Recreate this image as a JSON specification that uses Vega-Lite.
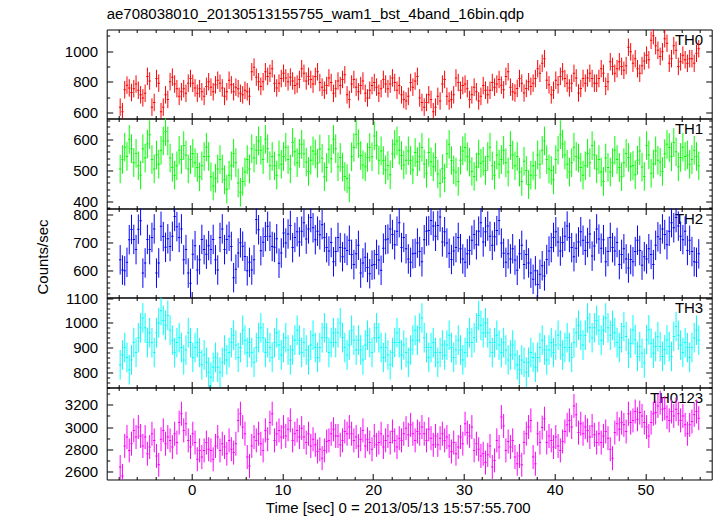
{
"$schema": "https://vega.github.io/schema/vega-lite/v6.json",
"autosize": {"type": "pad"},
"padding": {"left": 34.7, "top": 6.5, "right": 5, "bottom": 2},
"title": {"text": "ae708038010_20130513155755_wam1_bst_4band_16bin.qdp", "anchor": "start", "frame": "group", "offset": -5.5, "baseline": "alphabetic", "fontSize": 15, "fontWeight": "normal", "color": "#000"},
"datasets": {"lc": [
{"t":-7.875,"TH0":635,"e0":57,"TH1":505,"e1":46,"TH2":639,"e2":52,"TH3":830,"e3":60,"TH0123":2640,"e4":108},
{"t":-7.625,"TH0":605,"e0":57,"TH1":535,"e1":46,"TH2":603,"e2":52,"TH3":870,"e3":60,"TH0123":2560,"e4":108},
{"t":-7.375,"TH0":748,"e0":57,"TH1":575,"e1":46,"TH2":600,"e2":52,"TH3":900,"e3":60,"TH0123":2830,"e4":108},
{"t":-7.125,"TH0":778,"e0":57,"TH1":545,"e1":46,"TH2":630,"e2":52,"TH3":860,"e3":60,"TH0123":2910,"e4":108},
{"t":-6.875,"TH0":760,"e0":57,"TH1":600,"e1":46,"TH2":710,"e2":52,"TH3":810,"e3":60,"TH0123":2790,"e4":108},
{"t":-6.625,"TH0":730,"e0":57,"TH1":570,"e1":46,"TH2":746,"e2":52,"TH3":850,"e3":60,"TH0123":2850,"e4":108},
{"t":-6.375,"TH0":755,"e0":57,"TH1":525,"e1":46,"TH2":711,"e2":52,"TH3":920,"e3":60,"TH0123":2970,"e4":108},
{"t":-6.125,"TH0":785,"e0":57,"TH1":555,"e1":46,"TH2":675,"e2":52,"TH3":880,"e3":60,"TH0123":2910,"e4":108},
{"t":-5.875,"TH0":745,"e0":57,"TH1":515,"e1":46,"TH2":747,"e2":52,"TH3":940,"e3":60,"TH0123":3000,"e4":108},
{"t":-5.625,"TH0":715,"e0":57,"TH1":485,"e1":46,"TH2":777,"e2":52,"TH3":980,"e3":60,"TH0123":2920,"e4":108},
{"t":-5.375,"TH0":695,"e0":57,"TH1":570,"e1":46,"TH2":592,"e2":52,"TH3":1020,"e3":60,"TH0123":2830,"e4":108},
{"t":-5.125,"TH0":725,"e0":57,"TH1":540,"e1":46,"TH2":628,"e2":52,"TH3":980,"e3":60,"TH0123":2910,"e4":108},
{"t":-4.875,"TH0":835,"e0":57,"TH1":585,"e1":46,"TH2":711,"e2":52,"TH3":920,"e3":60,"TH0123":2760,"e4":108},
{"t":-4.625,"TH0":805,"e0":57,"TH1":615,"e1":46,"TH2":675,"e2":52,"TH3":960,"e3":60,"TH0123":2820,"e4":108},
{"t":-4.375,"TH0":635,"e0":57,"TH1":535,"e1":46,"TH2":718,"e2":52,"TH3":920,"e3":60,"TH0123":2940,"e4":108},
{"t":-4.125,"TH0":665,"e0":57,"TH1":505,"e1":46,"TH2":748,"e2":52,"TH3":880,"e3":60,"TH0123":2880,"e4":108},
{"t":-3.875,"TH0":821,"e0":57,"TH1":550,"e1":46,"TH2":592,"e2":52,"TH3":960,"e3":60,"TH0123":2740,"e4":108},
{"t":-3.625,"TH0":791,"e0":57,"TH1":520,"e1":46,"TH2":628,"e2":52,"TH3":1000,"e3":60,"TH0123":2660,"e4":108},
{"t":-3.375,"TH0":605,"e0":57,"TH1":565,"e1":46,"TH2":757,"e2":52,"TH3":1050,"e3":60,"TH0123":2890,"e4":108},
{"t":-3.125,"TH0":635,"e0":57,"TH1":595,"e1":46,"TH2":721,"e2":52,"TH3":1010,"e3":60,"TH0123":2970,"e4":108},
{"t":-2.875,"TH0":715,"e0":57,"TH1":625,"e1":46,"TH2":683,"e2":52,"TH3":990,"e3":60,"TH0123":2850,"e4":108},
{"t":-2.625,"TH0":685,"e0":57,"TH1":595,"e1":46,"TH2":713,"e2":52,"TH3":1030,"e3":60,"TH0123":2910,"e4":108},
{"t":-2.375,"TH0":800,"e0":57,"TH1":540,"e1":46,"TH2":686,"e2":52,"TH3":970,"e3":60,"TH0123":2880,"e4":108},
{"t":-2.125,"TH0":830,"e0":57,"TH1":510,"e1":46,"TH2":722,"e2":52,"TH3":930,"e3":60,"TH0123":2820,"e4":108},
{"t":-1.875,"TH0":785,"e0":57,"TH1":485,"e1":46,"TH2":792,"e2":52,"TH3":880,"e3":60,"TH0123":2940,"e4":108},
{"t":-1.625,"TH0":755,"e0":57,"TH1":515,"e1":46,"TH2":756,"e2":52,"TH3":920,"e3":60,"TH0123":2860,"e4":108},
{"t":-1.375,"TH0":705,"e0":57,"TH1":565,"e1":46,"TH2":718,"e2":52,"TH3":940,"e3":60,"TH0123":3040,"e4":108},
{"t":-1.125,"TH0":735,"e0":57,"TH1":535,"e1":46,"TH2":748,"e2":52,"TH3":900,"e3":60,"TH0123":3120,"e4":108},
{"t":-0.875,"TH0":755,"e0":57,"TH1":580,"e1":46,"TH2":639,"e2":52,"TH3":850,"e3":60,"TH0123":2970,"e4":108},
{"t":-0.625,"TH0":725,"e0":57,"TH1":550,"e1":46,"TH2":675,"e2":52,"TH3":890,"e3":60,"TH0123":3030,"e4":108},
{"t":-0.375,"TH0":791,"e0":57,"TH1":505,"e1":46,"TH2":592,"e2":52,"TH3":960,"e3":60,"TH0123":2880,"e4":108},
{"t":-0.125,"TH0":821,"e0":57,"TH1":535,"e1":46,"TH2":556,"e2":52,"TH3":920,"e3":60,"TH0123":2820,"e4":108},
{"t":0.125,"TH0":790,"e0":57,"TH1":555,"e1":46,"TH2":659,"e2":52,"TH3":860,"e3":60,"TH0123":2940,"e4":108},
{"t":0.375,"TH0":760,"e0":57,"TH1":525,"e1":46,"TH2":689,"e2":52,"TH3":900,"e3":60,"TH0123":2860,"e4":108},
{"t":0.625,"TH0":725,"e0":57,"TH1":510,"e1":46,"TH2":603,"e2":52,"TH3":920,"e3":60,"TH0123":2710,"e4":108},
{"t":0.875,"TH0":755,"e0":57,"TH1":480,"e1":46,"TH2":639,"e2":52,"TH3":880,"e3":60,"TH0123":2790,"e4":108},
{"t":1.125,"TH0":735,"e0":57,"TH1":515,"e1":46,"TH2":711,"e2":52,"TH3":830,"e3":60,"TH0123":2730,"e4":108},
{"t":1.375,"TH0":705,"e0":57,"TH1":545,"e1":46,"TH2":675,"e2":52,"TH3":870,"e3":60,"TH0123":2790,"e4":108},
{"t":1.625,"TH0":770,"e0":57,"TH1":575,"e1":46,"TH2":659,"e2":52,"TH3":840,"e3":60,"TH0123":2860,"e4":108},
{"t":1.875,"TH0":800,"e0":57,"TH1":545,"e1":46,"TH2":689,"e2":52,"TH3":800,"e3":60,"TH0123":2800,"e4":108},
{"t":2.125,"TH0":765,"e0":57,"TH1":480,"e1":46,"TH2":675,"e2":52,"TH3":780,"e3":60,"TH0123":2790,"e4":108},
{"t":2.375,"TH0":735,"e0":57,"TH1":450,"e1":46,"TH2":711,"e2":52,"TH3":820,"e3":60,"TH0123":2710,"e4":108},
{"t":2.625,"TH0":780,"e0":57,"TH1":475,"e1":46,"TH2":639,"e2":52,"TH3":860,"e3":60,"TH0123":2830,"e4":108},
{"t":2.875,"TH0":810,"e0":57,"TH1":505,"e1":46,"TH2":603,"e2":52,"TH3":820,"e3":60,"TH0123":2910,"e4":108},
{"t":3.125,"TH0":790,"e0":57,"TH1":535,"e1":46,"TH2":718,"e2":52,"TH3":800,"e3":60,"TH0123":2790,"e4":108},
{"t":3.375,"TH0":760,"e0":57,"TH1":505,"e1":46,"TH2":748,"e2":52,"TH3":840,"e3":60,"TH0123":2850,"e4":108},
{"t":3.625,"TH0":705,"e0":57,"TH1":470,"e1":46,"TH2":675,"e2":52,"TH3":890,"e3":60,"TH0123":2820,"e4":108},
{"t":3.875,"TH0":735,"e0":57,"TH1":440,"e1":46,"TH2":711,"e2":52,"TH3":850,"e3":60,"TH0123":2760,"e4":108},
{"t":4.125,"TH0":810,"e0":57,"TH1":485,"e1":46,"TH2":722,"e2":52,"TH3":880,"e3":60,"TH0123":2880,"e4":108},
{"t":4.375,"TH0":780,"e0":57,"TH1":515,"e1":46,"TH2":686,"e2":52,"TH3":920,"e3":60,"TH0123":2800,"e4":108},
{"t":4.625,"TH0":735,"e0":57,"TH1":555,"e1":46,"TH2":576,"e2":52,"TH3":950,"e3":60,"TH0123":2770,"e4":108},
{"t":4.875,"TH0":765,"e0":57,"TH1":525,"e1":46,"TH2":606,"e2":52,"TH3":910,"e3":60,"TH0123":2850,"e4":108},
{"t":5.125,"TH0":755,"e0":57,"TH1":460,"e1":46,"TH2":663,"e2":52,"TH3":860,"e3":60,"TH0123":3060,"e4":108},
{"t":5.375,"TH0":725,"e0":57,"TH1":430,"e1":46,"TH2":699,"e2":52,"TH3":900,"e3":60,"TH0123":3120,"e4":108},
{"t":5.625,"TH0":715,"e0":57,"TH1":465,"e1":46,"TH2":687,"e2":52,"TH3":970,"e3":60,"TH0123":3000,"e4":108},
{"t":5.875,"TH0":745,"e0":57,"TH1":495,"e1":46,"TH2":651,"e2":52,"TH3":930,"e3":60,"TH0123":2940,"e4":108},
{"t":6.125,"TH0":735,"e0":57,"TH1":535,"e1":46,"TH2":600,"e2":52,"TH3":880,"e3":60,"TH0123":2730,"e4":108},
{"t":6.375,"TH0":705,"e0":57,"TH1":505,"e1":46,"TH2":630,"e2":52,"TH3":920,"e3":60,"TH0123":2650,"e4":108},
{"t":6.625,"TH0":865,"e0":57,"TH1":570,"e1":46,"TH2":603,"e2":52,"TH3":880,"e3":60,"TH0123":2830,"e4":108},
{"t":6.875,"TH0":895,"e0":57,"TH1":540,"e1":46,"TH2":639,"e2":52,"TH3":840,"e3":60,"TH0123":2910,"e4":108},
{"t":7.125,"TH0":830,"e0":57,"TH1":565,"e1":46,"TH2":781,"e2":52,"TH3":900,"e3":60,"TH0123":2880,"e4":108},
{"t":7.375,"TH0":800,"e0":57,"TH1":595,"e1":46,"TH2":745,"e2":52,"TH3":940,"e3":60,"TH0123":2940,"e4":108},
{"t":7.625,"TH0":770,"e0":57,"TH1":565,"e1":46,"TH2":671,"e2":52,"TH3":980,"e3":60,"TH0123":2850,"e4":108},
{"t":7.875,"TH0":800,"e0":57,"TH1":535,"e1":46,"TH2":701,"e2":52,"TH3":940,"e3":60,"TH0123":2790,"e4":108},
{"t":8.125,"TH0":865,"e0":57,"TH1":600,"e1":46,"TH2":721,"e2":52,"TH3":880,"e3":60,"TH0123":2970,"e4":108},
{"t":8.375,"TH0":835,"e0":57,"TH1":570,"e1":46,"TH2":757,"e2":52,"TH3":920,"e3":60,"TH0123":2890,"e4":108},
{"t":8.625,"TH0":855,"e0":57,"TH1":515,"e1":46,"TH2":722,"e2":52,"TH3":900,"e3":60,"TH0123":3040,"e4":108},
{"t":8.875,"TH0":885,"e0":57,"TH1":545,"e1":46,"TH2":686,"e2":52,"TH3":860,"e3":60,"TH0123":3120,"e4":108},
{"t":9.125,"TH0":790,"e0":57,"TH1":515,"e1":46,"TH2":683,"e2":52,"TH3":920,"e3":60,"TH0123":2880,"e4":108},
{"t":9.375,"TH0":760,"e0":57,"TH1":485,"e1":46,"TH2":713,"e2":52,"TH3":960,"e3":60,"TH0123":2940,"e4":108},
{"t":9.625,"TH0":791,"e0":57,"TH1":550,"e1":46,"TH2":627,"e2":52,"TH3":910,"e3":60,"TH0123":2970,"e4":108},
{"t":9.875,"TH0":821,"e0":57,"TH1":520,"e1":46,"TH2":663,"e2":52,"TH3":870,"e3":60,"TH0123":2910,"e4":108},
{"t":10.125,"TH0":855,"e0":57,"TH1":545,"e1":46,"TH2":734,"e2":52,"TH3":900,"e3":60,"TH0123":3000,"e4":108},
{"t":10.375,"TH0":825,"e0":57,"TH1":575,"e1":46,"TH2":698,"e2":52,"TH3":940,"e3":60,"TH0123":2920,"e4":108},
{"t":10.625,"TH0":800,"e0":57,"TH1":535,"e1":46,"TH2":730,"e2":52,"TH3":890,"e3":60,"TH0123":2980,"e4":108},
{"t":10.875,"TH0":830,"e0":57,"TH1":505,"e1":46,"TH2":760,"e2":52,"TH3":850,"e3":60,"TH0123":3060,"e4":108},
{"t":11.125,"TH0":805,"e0":57,"TH1":590,"e1":46,"TH2":682,"e2":52,"TH3":890,"e3":60,"TH0123":2880,"e4":108},
{"t":11.375,"TH0":775,"e0":57,"TH1":560,"e1":46,"TH2":718,"e2":52,"TH3":930,"e3":60,"TH0123":2940,"e4":108},
{"t":11.625,"TH0":785,"e0":57,"TH1":525,"e1":46,"TH2":738,"e2":52,"TH3":970,"e3":60,"TH0123":2970,"e4":108},
{"t":11.875,"TH0":815,"e0":57,"TH1":555,"e1":46,"TH2":702,"e2":52,"TH3":930,"e3":60,"TH0123":2910,"e4":108},
{"t":12.125,"TH0":885,"e0":57,"TH1":584,"e1":46,"TH2":740,"e2":52,"TH3":880,"e3":60,"TH0123":2990,"e4":108},
{"t":12.375,"TH0":855,"e0":57,"TH1":554,"e1":46,"TH2":770,"e2":52,"TH3":920,"e3":60,"TH0123":2910,"e4":108},
{"t":12.625,"TH0":805,"e0":57,"TH1":527,"e1":46,"TH2":712,"e2":52,"TH3":890,"e3":60,"TH0123":2860,"e4":108},
{"t":12.875,"TH0":835,"e0":57,"TH1":497,"e1":46,"TH2":748,"e2":52,"TH3":850,"e3":60,"TH0123":2940,"e4":108},
{"t":13.125,"TH0":815,"e0":57,"TH1":533,"e1":46,"TH2":788,"e2":52,"TH3":910,"e3":60,"TH0123":2830,"e4":108},
{"t":13.375,"TH0":785,"e0":57,"TH1":563,"e1":46,"TH2":752,"e2":52,"TH3":950,"e3":60,"TH0123":2890,"e4":108},
{"t":13.625,"TH0":835,"e0":57,"TH1":553,"e1":46,"TH2":710,"e2":52,"TH3":900,"e3":60,"TH0123":2840,"e4":108},
{"t":13.875,"TH0":865,"e0":57,"TH1":523,"e1":46,"TH2":740,"e2":52,"TH3":860,"e3":60,"TH0123":2780,"e4":108},
{"t":14.125,"TH0":795,"e0":57,"TH1":569,"e1":46,"TH2":727,"e2":52,"TH3":900,"e3":60,"TH0123":2800,"e4":108},
{"t":14.375,"TH0":765,"e0":57,"TH1":539,"e1":46,"TH2":763,"e2":52,"TH3":940,"e3":60,"TH0123":2720,"e4":108},
{"t":14.625,"TH0":745,"e0":57,"TH1":480,"e1":46,"TH2":718,"e2":52,"TH3":980,"e3":60,"TH0123":2790,"e4":108},
{"t":14.875,"TH0":775,"e0":57,"TH1":510,"e1":46,"TH2":682,"e2":52,"TH3":940,"e3":60,"TH0123":2870,"e4":108},
{"t":15.125,"TH0":825,"e0":57,"TH1":568,"e1":46,"TH2":670,"e2":52,"TH3":880,"e3":60,"TH0123":2880,"e4":108},
{"t":15.375,"TH0":795,"e0":57,"TH1":538,"e1":46,"TH2":700,"e2":52,"TH3":920,"e3":60,"TH0123":2940,"e4":108},
{"t":15.625,"TH0":725,"e0":57,"TH1":600,"e1":46,"TH2":632,"e2":52,"TH3":960,"e3":60,"TH0123":2980,"e4":108},
{"t":15.875,"TH0":755,"e0":57,"TH1":570,"e1":46,"TH2":668,"e2":52,"TH3":920,"e3":60,"TH0123":2920,"e4":108},
{"t":16.125,"TH0":805,"e0":57,"TH1":512,"e1":46,"TH2":718,"e2":52,"TH3":960,"e3":60,"TH0123":2920,"e4":108},
{"t":16.375,"TH0":775,"e0":57,"TH1":542,"e1":46,"TH2":682,"e2":52,"TH3":1000,"e3":60,"TH0123":2840,"e4":108},
{"t":16.625,"TH0":815,"e0":57,"TH1":511,"e1":46,"TH2":650,"e2":52,"TH3":940,"e3":60,"TH0123":2880,"e4":108},
{"t":16.875,"TH0":845,"e0":57,"TH1":481,"e1":46,"TH2":680,"e2":52,"TH3":900,"e3":60,"TH0123":2960,"e4":108},
{"t":17.125,"TH0":715,"e0":57,"TH1":474,"e1":46,"TH2":672,"e2":52,"TH3":870,"e3":60,"TH0123":2940,"e4":108},
{"t":17.375,"TH0":685,"e0":57,"TH1":444,"e1":46,"TH2":708,"e2":52,"TH3":910,"e3":60,"TH0123":3000,"e4":108},
{"t":17.625,"TH0":785,"e0":57,"TH1":544,"e1":46,"TH2":658,"e2":52,"TH3":970,"e3":60,"TH0123":2940,"e4":108},
{"t":17.875,"TH0":815,"e0":57,"TH1":574,"e1":46,"TH2":622,"e2":52,"TH3":930,"e3":60,"TH0123":2880,"e4":108},
{"t":18.125,"TH0":765,"e0":57,"TH1":616,"e1":46,"TH2":660,"e2":52,"TH3":890,"e3":60,"TH0123":2910,"e4":108},
{"t":18.375,"TH0":735,"e0":57,"TH1":586,"e1":46,"TH2":690,"e2":52,"TH3":930,"e3":60,"TH0123":2830,"e4":108},
{"t":18.625,"TH0":775,"e0":57,"TH1":548,"e1":46,"TH2":592,"e2":52,"TH3":890,"e3":60,"TH0123":2890,"e4":108},
{"t":18.875,"TH0":805,"e0":57,"TH1":518,"e1":46,"TH2":628,"e2":52,"TH3":850,"e3":60,"TH0123":2970,"e4":108},
{"t":19.125,"TH0":725,"e0":57,"TH1":512,"e1":46,"TH2":648,"e2":52,"TH3":910,"e3":60,"TH0123":2830,"e4":108},
{"t":19.375,"TH0":695,"e0":57,"TH1":542,"e1":46,"TH2":612,"e2":52,"TH3":950,"e3":60,"TH0123":2890,"e4":108},
{"t":19.625,"TH0":745,"e0":57,"TH1":574,"e1":46,"TH2":590,"e2":52,"TH3":920,"e3":60,"TH0123":2860,"e4":108},
{"t":19.875,"TH0":775,"e0":57,"TH1":544,"e1":46,"TH2":620,"e2":52,"TH3":880,"e3":60,"TH0123":2800,"e4":108},
{"t":20.125,"TH0":795,"e0":57,"TH1":611,"e1":46,"TH2":622,"e2":52,"TH3":940,"e3":60,"TH0123":2920,"e4":108},
{"t":20.375,"TH0":765,"e0":57,"TH1":581,"e1":46,"TH2":658,"e2":52,"TH3":980,"e3":60,"TH0123":2840,"e4":108},
{"t":20.625,"TH0":725,"e0":57,"TH1":533,"e1":46,"TH2":638,"e2":52,"TH3":940,"e3":60,"TH0123":2860,"e4":108},
{"t":20.875,"TH0":755,"e0":57,"TH1":563,"e1":46,"TH2":602,"e2":52,"TH3":900,"e3":60,"TH0123":2940,"e4":108},
{"t":21.125,"TH0":815,"e0":57,"TH1":532,"e1":46,"TH2":680,"e2":52,"TH3":860,"e3":60,"TH0123":2820,"e4":108},
{"t":21.375,"TH0":785,"e0":57,"TH1":502,"e1":46,"TH2":710,"e2":52,"TH3":900,"e3":60,"TH0123":2880,"e4":108},
{"t":21.625,"TH0":755,"e0":57,"TH1":516,"e1":46,"TH2":712,"e2":52,"TH3":870,"e3":60,"TH0123":2920,"e4":108},
{"t":21.875,"TH0":785,"e0":57,"TH1":486,"e1":46,"TH2":748,"e2":52,"TH3":830,"e3":60,"TH0123":2860,"e4":108},
{"t":22.125,"TH0":825,"e0":57,"TH1":554,"e1":46,"TH2":728,"e2":52,"TH3":880,"e3":60,"TH0123":2960,"e4":108},
{"t":22.375,"TH0":795,"e0":57,"TH1":584,"e1":46,"TH2":692,"e2":52,"TH3":920,"e3":60,"TH0123":2880,"e4":108},
{"t":22.625,"TH0":745,"e0":57,"TH1":595,"e1":46,"TH2":740,"e2":52,"TH3":960,"e3":60,"TH0123":2820,"e4":108},
{"t":22.875,"TH0":775,"e0":57,"TH1":565,"e1":46,"TH2":770,"e2":52,"TH3":920,"e3":60,"TH0123":2900,"e4":108},
{"t":23.125,"TH0":715,"e0":57,"TH1":548,"e1":46,"TH2":682,"e2":52,"TH3":870,"e3":60,"TH0123":2880,"e4":108},
{"t":23.375,"TH0":685,"e0":57,"TH1":518,"e1":46,"TH2":718,"e2":52,"TH3":910,"e3":60,"TH0123":2940,"e4":108},
{"t":23.625,"TH0":675,"e0":57,"TH1":533,"e1":46,"TH2":678,"e2":52,"TH3":880,"e3":60,"TH0123":2990,"e4":108},
{"t":23.875,"TH0":705,"e0":57,"TH1":563,"e1":46,"TH2":642,"e2":52,"TH3":840,"e3":60,"TH0123":2930,"e4":108},
{"t":24.125,"TH0":795,"e0":57,"TH1":532,"e1":46,"TH2":630,"e2":52,"TH3":890,"e3":60,"TH0123":3020,"e4":108},
{"t":24.375,"TH0":765,"e0":57,"TH1":502,"e1":46,"TH2":660,"e2":52,"TH3":930,"e3":60,"TH0123":2940,"e4":108},
{"t":24.625,"TH0":805,"e0":57,"TH1":558,"e1":46,"TH2":662,"e2":52,"TH3":970,"e3":60,"TH0123":2880,"e4":108},
{"t":24.875,"TH0":835,"e0":57,"TH1":528,"e1":46,"TH2":698,"e2":52,"TH3":930,"e3":60,"TH0123":2960,"e4":108},
{"t":25.125,"TH0":695,"e0":57,"TH1":544,"e1":46,"TH2":668,"e2":52,"TH3":980,"e3":60,"TH0123":2940,"e4":108},
{"t":25.375,"TH0":665,"e0":57,"TH1":574,"e1":46,"TH2":632,"e2":52,"TH3":1020,"e3":60,"TH0123":3000,"e4":108},
{"t":25.625,"TH0":635,"e0":57,"TH1":521,"e1":46,"TH2":710,"e2":52,"TH3":940,"e3":60,"TH0123":2940,"e4":108},
{"t":25.875,"TH0":665,"e0":57,"TH1":491,"e1":46,"TH2":740,"e2":52,"TH3":900,"e3":60,"TH0123":2880,"e4":108},
{"t":26.125,"TH0":715,"e0":57,"TH1":558,"e1":46,"TH2":742,"e2":52,"TH3":860,"e3":60,"TH0123":2980,"e4":108},
{"t":26.375,"TH0":685,"e0":57,"TH1":528,"e1":46,"TH2":778,"e2":52,"TH3":900,"e3":60,"TH0123":2900,"e4":108},
{"t":26.625,"TH0":605,"e0":57,"TH1":512,"e1":46,"TH2":758,"e2":52,"TH3":920,"e3":60,"TH0123":2840,"e4":108},
{"t":26.875,"TH0":635,"e0":57,"TH1":542,"e1":46,"TH2":722,"e2":52,"TH3":880,"e3":60,"TH0123":2920,"e4":108},
{"t":27.125,"TH0":705,"e0":57,"TH1":489,"e1":46,"TH2":760,"e2":52,"TH3":840,"e3":60,"TH0123":2840,"e4":108},
{"t":27.375,"TH0":675,"e0":57,"TH1":459,"e1":46,"TH2":790,"e2":52,"TH3":880,"e3":60,"TH0123":2900,"e4":108},
{"t":27.625,"TH0":785,"e0":57,"TH1":506,"e1":46,"TH2":702,"e2":52,"TH3":910,"e3":60,"TH0123":2940,"e4":108},
{"t":27.875,"TH0":815,"e0":57,"TH1":476,"e1":46,"TH2":738,"e2":52,"TH3":870,"e3":60,"TH0123":2880,"e4":108},
{"t":28.125,"TH0":705,"e0":57,"TH1":554,"e1":46,"TH2":698,"e2":52,"TH3":910,"e3":60,"TH0123":2910,"e4":108},
{"t":28.375,"TH0":675,"e0":57,"TH1":584,"e1":46,"TH2":662,"e2":52,"TH3":950,"e3":60,"TH0123":2830,"e4":108},
{"t":28.625,"TH0":685,"e0":57,"TH1":532,"e1":46,"TH2":640,"e2":52,"TH3":900,"e3":60,"TH0123":2780,"e4":108},
{"t":28.875,"TH0":715,"e0":57,"TH1":502,"e1":46,"TH2":670,"e2":52,"TH3":860,"e3":60,"TH0123":2860,"e4":108},
{"t":29.125,"TH0":825,"e0":57,"TH1":495,"e1":46,"TH2":682,"e2":52,"TH3":890,"e3":60,"TH0123":2760,"e4":108},
{"t":29.375,"TH0":795,"e0":57,"TH1":465,"e1":46,"TH2":718,"e2":52,"TH3":930,"e3":60,"TH0123":2820,"e4":108},
{"t":29.625,"TH0":745,"e0":57,"TH1":533,"e1":46,"TH2":678,"e2":52,"TH3":890,"e3":60,"TH0123":2910,"e4":108},
{"t":29.875,"TH0":775,"e0":57,"TH1":563,"e1":46,"TH2":642,"e2":52,"TH3":850,"e3":60,"TH0123":2850,"e4":108},
{"t":30.125,"TH0":785,"e0":57,"TH1":574,"e1":46,"TH2":630,"e2":52,"TH3":880,"e3":60,"TH0123":3030,"e4":108},
{"t":30.375,"TH0":755,"e0":57,"TH1":544,"e1":46,"TH2":660,"e2":52,"TH3":920,"e3":60,"TH0123":2950,"e4":108},
{"t":30.625,"TH0":685,"e0":57,"TH1":527,"e1":46,"TH2":672,"e2":52,"TH3":960,"e3":60,"TH0123":2920,"e4":108},
{"t":30.875,"TH0":715,"e0":57,"TH1":497,"e1":46,"TH2":708,"e2":52,"TH3":920,"e3":60,"TH0123":3000,"e4":108},
{"t":31.125,"TH0":765,"e0":57,"TH1":481,"e1":46,"TH2":728,"e2":52,"TH3":940,"e3":60,"TH0123":2790,"e4":108},
{"t":31.375,"TH0":735,"e0":57,"TH1":511,"e1":46,"TH2":692,"e2":52,"TH3":980,"e3":60,"TH0123":2850,"e4":108},
{"t":31.625,"TH0":675,"e0":57,"TH1":553,"e1":46,"TH2":740,"e2":52,"TH3":1030,"e3":60,"TH0123":2800,"e4":108},
{"t":31.875,"TH0":705,"e0":57,"TH1":523,"e1":46,"TH2":770,"e2":52,"TH3":990,"e3":60,"TH0123":2740,"e4":108},
{"t":32.125,"TH0":775,"e0":57,"TH1":530,"e1":46,"TH2":702,"e2":52,"TH3":960,"e3":60,"TH0123":2760,"e4":108},
{"t":32.375,"TH0":745,"e0":57,"TH1":500,"e1":46,"TH2":738,"e2":52,"TH3":1000,"e3":60,"TH0123":2680,"e4":108},
{"t":32.625,"TH0":715,"e0":57,"TH1":545,"e1":46,"TH2":758,"e2":52,"TH3":960,"e3":60,"TH0123":2750,"e4":108},
{"t":32.875,"TH0":745,"e0":57,"TH1":575,"e1":46,"TH2":722,"e2":52,"TH3":920,"e3":60,"TH0123":2830,"e4":108},
{"t":33.125,"TH0":795,"e0":57,"TH1":515,"e1":46,"TH2":690,"e2":52,"TH3":880,"e3":60,"TH0123":2640,"e4":108},
{"t":33.375,"TH0":765,"e0":57,"TH1":485,"e1":46,"TH2":720,"e2":52,"TH3":920,"e3":60,"TH0123":2700,"e4":108},
{"t":33.625,"TH0":785,"e0":57,"TH1":550,"e1":46,"TH2":742,"e2":52,"TH3":950,"e3":60,"TH0123":2880,"e4":108},
{"t":33.875,"TH0":815,"e0":57,"TH1":520,"e1":46,"TH2":778,"e2":52,"TH3":910,"e3":60,"TH0123":2820,"e4":108},
{"t":34.125,"TH0":778,"e0":57,"TH1":535,"e1":46,"TH2":698,"e2":52,"TH3":880,"e3":60,"TH0123":3090,"e4":108},
{"t":34.375,"TH0":748,"e0":57,"TH1":565,"e1":46,"TH2":662,"e2":52,"TH3":920,"e3":60,"TH0123":3010,"e4":108},
{"t":34.625,"TH0":835,"e0":57,"TH1":525,"e1":46,"TH2":630,"e2":52,"TH3":890,"e3":60,"TH0123":2790,"e4":108},
{"t":34.875,"TH0":865,"e0":57,"TH1":495,"e1":46,"TH2":660,"e2":52,"TH3":850,"e3":60,"TH0123":2870,"e4":108},
{"t":35.125,"TH0":765,"e0":57,"TH1":580,"e1":46,"TH2":642,"e2":52,"TH3":870,"e3":60,"TH0123":2820,"e4":108},
{"t":35.375,"TH0":735,"e0":57,"TH1":550,"e1":46,"TH2":678,"e2":52,"TH3":910,"e3":60,"TH0123":2880,"e4":108},
{"t":35.625,"TH0":727,"e0":57,"TH1":515,"e1":46,"TH2":638,"e2":52,"TH3":870,"e3":60,"TH0123":2730,"e4":108},
{"t":35.875,"TH0":757,"e0":57,"TH1":545,"e1":46,"TH2":602,"e2":52,"TH3":830,"e3":60,"TH0123":2670,"e4":108},
{"t":36.125,"TH0":821,"e0":57,"TH1":495,"e1":46,"TH2":660,"e2":52,"TH3":810,"e3":60,"TH0123":2740,"e4":108},
{"t":36.375,"TH0":791,"e0":57,"TH1":465,"e1":46,"TH2":690,"e2":52,"TH3":850,"e3":60,"TH0123":2660,"e4":108},
{"t":36.625,"TH0":727,"e0":57,"TH1":530,"e1":46,"TH2":622,"e2":52,"TH3":840,"e3":60,"TH0123":2860,"e4":108},
{"t":36.875,"TH0":757,"e0":57,"TH1":500,"e1":46,"TH2":658,"e2":52,"TH3":800,"e3":60,"TH0123":2940,"e4":108},
{"t":37.125,"TH0":800,"e0":57,"TH1":455,"e1":46,"TH2":628,"e2":52,"TH3":840,"e3":60,"TH0123":3000,"e4":108},
{"t":37.375,"TH0":770,"e0":57,"TH1":485,"e1":46,"TH2":592,"e2":52,"TH3":880,"e3":60,"TH0123":3060,"e4":108},
{"t":37.625,"TH0":791,"e0":57,"TH1":515,"e1":46,"TH2":570,"e2":52,"TH3":860,"e3":60,"TH0123":2730,"e4":108},
{"t":37.875,"TH0":821,"e0":57,"TH1":485,"e1":46,"TH2":600,"e2":52,"TH3":820,"e3":60,"TH0123":2670,"e4":108},
{"t":38.125,"TH0":885,"e0":57,"TH1":550,"e1":46,"TH2":552,"e2":52,"TH3":860,"e3":60,"TH0123":2940,"e4":108},
{"t":38.375,"TH0":855,"e0":57,"TH1":520,"e1":46,"TH2":588,"e2":52,"TH3":900,"e3":60,"TH0123":2860,"e4":108},
{"t":38.625,"TH0":920,"e0":57,"TH1":565,"e1":46,"TH2":618,"e2":52,"TH3":930,"e3":60,"TH0123":2995,"e4":108},
{"t":38.875,"TH0":950,"e0":57,"TH1":595,"e1":46,"TH2":582,"e2":52,"TH3":890,"e3":60,"TH0123":3075,"e4":108},
{"t":39.125,"TH0":810,"e0":57,"TH1":535,"e1":46,"TH2":640,"e2":52,"TH3":850,"e3":60,"TH0123":2860,"e4":108},
{"t":39.375,"TH0":780,"e0":57,"TH1":505,"e1":46,"TH2":670,"e2":52,"TH3":890,"e3":60,"TH0123":2920,"e4":108},
{"t":39.625,"TH0":715,"e0":57,"TH1":500,"e1":46,"TH2":682,"e2":52,"TH3":920,"e3":60,"TH0123":2880,"e4":108},
{"t":39.875,"TH0":745,"e0":57,"TH1":470,"e1":46,"TH2":718,"e2":52,"TH3":880,"e3":60,"TH0123":2820,"e4":108},
{"t":40.125,"TH0":810,"e0":57,"TH1":535,"e1":46,"TH2":738,"e2":52,"TH3":910,"e3":60,"TH0123":2910,"e4":108},
{"t":40.375,"TH0":780,"e0":57,"TH1":565,"e1":46,"TH2":702,"e2":52,"TH3":950,"e3":60,"TH0123":2830,"e4":108},
{"t":40.625,"TH0":835,"e0":57,"TH1":615,"e1":46,"TH2":670,"e2":52,"TH3":910,"e3":60,"TH0123":2790,"e4":108},
{"t":40.875,"TH0":865,"e0":57,"TH1":585,"e1":46,"TH2":700,"e2":52,"TH3":870,"e3":60,"TH0123":2870,"e4":108},
{"t":41.125,"TH0":821,"e0":57,"TH1":550,"e1":46,"TH2":722,"e2":52,"TH3":900,"e3":60,"TH0123":2960,"e4":108},
{"t":41.375,"TH0":791,"e0":57,"TH1":520,"e1":46,"TH2":758,"e2":52,"TH3":940,"e3":60,"TH0123":3020,"e4":108},
{"t":41.625,"TH0":760,"e0":57,"TH1":495,"e1":46,"TH2":718,"e2":52,"TH3":900,"e3":60,"TH0123":3060,"e4":108},
{"t":41.875,"TH0":790,"e0":57,"TH1":525,"e1":46,"TH2":682,"e2":52,"TH3":860,"e3":60,"TH0123":3000,"e4":108},
{"t":42.125,"TH0":855,"e0":57,"TH1":575,"e1":46,"TH2":650,"e2":52,"TH3":920,"e3":60,"TH0123":3190,"e4":108},
{"t":42.375,"TH0":825,"e0":57,"TH1":545,"e1":46,"TH2":680,"e2":52,"TH3":960,"e3":60,"TH0123":3110,"e4":108},
{"t":42.625,"TH0":727,"e0":57,"TH1":540,"e1":46,"TH2":702,"e2":52,"TH3":990,"e3":60,"TH0123":2950,"e4":108},
{"t":42.875,"TH0":757,"e0":57,"TH1":510,"e1":46,"TH2":738,"e2":52,"TH3":950,"e3":60,"TH0123":3030,"e4":108},
{"t":43.125,"TH0":821,"e0":57,"TH1":485,"e1":46,"TH2":708,"e2":52,"TH3":910,"e3":60,"TH0123":2940,"e4":108},
{"t":43.375,"TH0":791,"e0":57,"TH1":515,"e1":46,"TH2":672,"e2":52,"TH3":950,"e3":60,"TH0123":3000,"e4":108},
{"t":43.625,"TH0":825,"e0":57,"TH1":555,"e1":46,"TH2":700,"e2":52,"TH3":1020,"e3":60,"TH0123":2970,"e4":108},
{"t":43.875,"TH0":855,"e0":57,"TH1":525,"e1":46,"TH2":730,"e2":52,"TH3":980,"e3":60,"TH0123":2910,"e4":108},
{"t":44.125,"TH0":821,"e0":57,"TH1":580,"e1":46,"TH2":652,"e2":52,"TH3":940,"e3":60,"TH0123":3010,"e4":108},
{"t":44.375,"TH0":791,"e0":57,"TH1":550,"e1":46,"TH2":688,"e2":52,"TH3":980,"e3":60,"TH0123":2930,"e4":108},
{"t":44.625,"TH0":791,"e0":57,"TH1":505,"e1":46,"TH2":748,"e2":52,"TH3":1010,"e3":60,"TH0123":2860,"e4":108},
{"t":44.875,"TH0":821,"e0":57,"TH1":535,"e1":46,"TH2":712,"e2":52,"TH3":970,"e3":60,"TH0123":2940,"e4":108},
{"t":45.125,"TH0":885,"e0":57,"TH1":495,"e1":46,"TH2":680,"e2":52,"TH3":930,"e3":60,"TH0123":2860,"e4":108},
{"t":45.375,"TH0":855,"e0":57,"TH1":465,"e1":46,"TH2":710,"e2":52,"TH3":970,"e3":60,"TH0123":2920,"e4":108},
{"t":45.625,"TH0":770,"e0":57,"TH1":540,"e1":46,"TH2":632,"e2":52,"TH3":1020,"e3":60,"TH0123":2960,"e4":108},
{"t":45.875,"TH0":800,"e0":57,"TH1":510,"e1":46,"TH2":668,"e2":52,"TH3":980,"e3":60,"TH0123":2900,"e4":108},
{"t":46.125,"TH0":930,"e0":57,"TH1":495,"e1":46,"TH2":718,"e2":52,"TH3":950,"e3":60,"TH0123":2800,"e4":108},
{"t":46.375,"TH0":900,"e0":57,"TH1":525,"e1":46,"TH2":682,"e2":52,"TH3":990,"e3":60,"TH0123":2720,"e4":108},
{"t":46.625,"TH0":855,"e0":57,"TH1":565,"e1":46,"TH2":670,"e2":52,"TH3":960,"e3":60,"TH0123":2950,"e4":108},
{"t":46.875,"TH0":885,"e0":57,"TH1":535,"e1":46,"TH2":700,"e2":52,"TH3":920,"e3":60,"TH0123":3030,"e4":108},
{"t":47.125,"TH0":930,"e0":57,"TH1":510,"e1":46,"TH2":622,"e2":52,"TH3":900,"e3":60,"TH0123":2980,"e4":108},
{"t":47.375,"TH0":900,"e0":57,"TH1":480,"e1":46,"TH2":658,"e2":52,"TH3":940,"e3":60,"TH0123":3040,"e4":108},
{"t":47.625,"TH0":875,"e0":57,"TH1":525,"e1":46,"TH2":678,"e2":52,"TH3":985,"e3":60,"TH0123":3020,"e4":108},
{"t":47.875,"TH0":905,"e0":57,"TH1":555,"e1":46,"TH2":642,"e2":52,"TH3":945,"e3":60,"TH0123":2960,"e4":108},
{"t":48.125,"TH0":1025,"e0":57,"TH1":542,"e1":46,"TH2":610,"e2":52,"TH3":877,"e3":60,"TH0123":3120,"e4":108},
{"t":48.375,"TH0":995,"e0":57,"TH1":512,"e1":46,"TH2":640,"e2":52,"TH3":917,"e3":60,"TH0123":3040,"e4":108},
{"t":48.625,"TH0":920,"e0":57,"TH1":516,"e1":46,"TH2":632,"e2":52,"TH3":972,"e3":60,"TH0123":3060,"e4":108},
{"t":48.875,"TH0":950,"e0":57,"TH1":486,"e1":46,"TH2":668,"e2":52,"TH3":932,"e3":60,"TH0123":3140,"e4":108},
{"t":49.125,"TH0":885,"e0":57,"TH1":533,"e1":46,"TH2":708,"e2":52,"TH3":864,"e3":60,"TH0123":3070,"e4":108},
{"t":49.375,"TH0":855,"e0":57,"TH1":563,"e1":46,"TH2":672,"e2":52,"TH3":904,"e3":60,"TH0123":3130,"e4":108},
{"t":49.625,"TH0":905,"e0":57,"TH1":511,"e1":46,"TH2":620,"e2":52,"TH3":877,"e3":60,"TH0123":3100,"e4":108},
{"t":49.875,"TH0":935,"e0":57,"TH1":481,"e1":46,"TH2":650,"e2":52,"TH3":837,"e3":60,"TH0123":3040,"e4":108},
{"t":50.125,"TH0":973,"e0":57,"TH1":580,"e1":46,"TH2":642,"e2":52,"TH3":932,"e3":60,"TH0123":3000,"e4":108},
{"t":50.375,"TH0":943,"e0":57,"TH1":550,"e1":46,"TH2":678,"e2":52,"TH3":972,"e3":60,"TH0123":2920,"e4":108},
{"t":50.625,"TH0":1070,"e0":57,"TH1":491,"e1":46,"TH2":658,"e2":52,"TH3":917,"e3":60,"TH0123":3040,"e4":108},
{"t":50.875,"TH0":1100,"e0":57,"TH1":521,"e1":46,"TH2":622,"e2":52,"TH3":877,"e3":60,"TH0123":3120,"e4":108},
{"t":51.125,"TH0":1035,"e0":57,"TH1":563,"e1":46,"TH2":690,"e2":52,"TH3":904,"e3":60,"TH0123":3130,"e4":108},
{"t":51.375,"TH0":1005,"e0":57,"TH1":533,"e1":46,"TH2":720,"e2":52,"TH3":944,"e3":60,"TH0123":3190,"e4":108},
{"t":51.625,"TH0":965,"e0":57,"TH1":527,"e1":46,"TH2":712,"e2":52,"TH3":904,"e3":60,"TH0123":3220,"e4":108},
{"t":51.875,"TH0":995,"e0":57,"TH1":497,"e1":46,"TH2":748,"e2":52,"TH3":864,"e3":60,"TH0123":3160,"e4":108},
{"t":52.125,"TH0":1080,"e0":57,"TH1":554,"e1":46,"TH2":728,"e2":52,"TH3":891,"e3":60,"TH0123":3170,"e4":108},
{"t":52.375,"TH0":1050,"e0":57,"TH1":584,"e1":46,"TH2":692,"e2":52,"TH3":931,"e3":60,"TH0123":3090,"e4":108},
{"t":52.625,"TH0":920,"e0":57,"TH1":574,"e1":46,"TH2":740,"e2":52,"TH3":904,"e3":60,"TH0123":3060,"e4":108},
{"t":52.875,"TH0":950,"e0":57,"TH1":544,"e1":46,"TH2":770,"e2":52,"TH3":864,"e3":60,"TH0123":3140,"e4":108},
{"t":53.125,"TH0":1035,"e0":57,"TH1":590,"e1":46,"TH2":752,"e2":52,"TH3":945,"e3":60,"TH0123":3100,"e4":108},
{"t":53.375,"TH0":1005,"e0":57,"TH1":560,"e1":46,"TH2":788,"e2":52,"TH3":985,"e3":60,"TH0123":3160,"e4":108},
{"t":53.625,"TH0":900,"e0":57,"TH1":512,"e1":46,"TH2":758,"e2":52,"TH3":950,"e3":60,"TH0123":3120,"e4":108},
{"t":53.875,"TH0":930,"e0":57,"TH1":542,"e1":46,"TH2":722,"e2":52,"TH3":910,"e3":60,"TH0123":3060,"e4":108},
{"t":54.125,"TH0":973,"e0":57,"TH1":575,"e1":46,"TH2":710,"e2":52,"TH3":880,"e3":60,"TH0123":3100,"e4":108},
{"t":54.375,"TH0":943,"e0":57,"TH1":545,"e1":46,"TH2":740,"e2":52,"TH3":920,"e3":60,"TH0123":3020,"e4":108},
{"t":54.625,"TH0":920,"e0":57,"TH1":550,"e1":46,"TH2":672,"e2":52,"TH3":900,"e3":60,"TH0123":2940,"e4":108},
{"t":54.875,"TH0":950,"e0":57,"TH1":520,"e1":46,"TH2":708,"e2":52,"TH3":860,"e3":60,"TH0123":3020,"e4":108},
{"t":55.125,"TH0":950,"e0":57,"TH1":535,"e1":46,"TH2":668,"e2":52,"TH3":900,"e3":60,"TH0123":3050,"e4":108},
{"t":55.375,"TH0":920,"e0":57,"TH1":565,"e1":46,"TH2":632,"e2":52,"TH3":940,"e3":60,"TH0123":3110,"e4":108},
{"t":55.625,"TH0":985,"e0":57,"TH1":545,"e1":46,"TH2":630,"e2":52,"TH3":970,"e3":60,"TH0123":3140,"e4":108},
{"t":55.875,"TH0":1015,"e0":57,"TH1":515,"e1":46,"TH2":660,"e2":52,"TH3":930,"e3":60,"TH0123":3080,"e4":108}
]},
"data": {"name": "lc"},
"spacing": 0,
"bounds": "flush",
"vconcat": [
{"width": 605, "height": 89,
 "layer": [
  {"mark": {"type": "errorbar", "color": "#ff0000", "thickness": 1, "clip": true},
   "encoding": {
    "x": {"field": "t", "type": "quantitative", "scale": {"domain": [-9.36, 57.3], "nice": false, "zero": false},
          "axis": {"orient": "bottom", "values": [-8,-6,-4,-2,0,2,4,6,8,10,12,14,16,18,20,22,24,26,28,30,32,34,36,38,40,42,44,46,48,50,52,54,56], "labels": false, "title": null, "tickSize": {"condition": {"test": "datum.value % 10 == 0", "value": -6}, "value": -3}}},
    "y": {"field": "TH0", "type": "quantitative", "scale": {"domain": [561, 1140], "nice": false, "zero": false},
          "axis": {"orient": "left", "values": [600,700,800,900,1000,1100], "format": "d", "labelExpr": "datum.value % 200 == 0 ? datum.label : ''", "labelPadding": 15, "title": null, "tickSize": {"condition": {"test": "datum.value % 200 == 0", "value": -6}, "value": -3}}},
    "yError": {"field": "e0"}}},
  {"mark": {"type": "tick", "orient": "horizontal", "color": "#ff0000", "size": 2.3, "thickness": 1, "opacity": 1, "clip": true},
   "encoding": {
    "x": {"field": "t", "type": "quantitative", "scale": {"domain": [-9.36, 57.3], "nice": false, "zero": false},
          "axis": {"orient": "top", "values": [-8,-6,-4,-2,0,2,4,6,8,10,12,14,16,18,20,22,24,26,28,30,32,34,36,38,40,42,44,46,48,50,52,54,56], "labels": false, "title": null, "tickSize": {"condition": {"test": "datum.value % 10 == 0", "value": -6}, "value": -3}}},
    "y": {"field": "TH0", "type": "quantitative", "scale": {"domain": [561, 1140], "nice": false, "zero": false},
          "axis": {"orient": "right", "values": [600,700,800,900,1000,1100], "labels": false, "title": "TH0", "titleX": -9, "titleY": 15.3, "titleAngle": 0, "titleAlign": "right", "titleBaseline": "alphabetic", "tickSize": {"condition": {"test": "datum.value % 200 == 0", "value": -6}, "value": -3}}}}}
 ],
 "resolve": {"axis": {"x": "independent", "y": "independent"}}},
{"width": 605, "height": 90,
 "layer": [
  {"mark": {"type": "errorbar", "color": "#00ff00", "thickness": 1, "clip": true},
   "encoding": {
    "x": {"field": "t", "type": "quantitative", "scale": {"domain": [-9.36, 57.3], "nice": false, "zero": false},
          "axis": {"orient": "bottom", "values": [-8,-6,-4,-2,0,2,4,6,8,10,12,14,16,18,20,22,24,26,28,30,32,34,36,38,40,42,44,46,48,50,52,54,56], "labels": false, "title": null, "tickSize": {"condition": {"test": "datum.value % 10 == 0", "value": -6}, "value": -3}}},
    "y": {"field": "TH1", "type": "quantitative", "scale": {"domain": [378, 667], "nice": false, "zero": false},
          "axis": {"orient": "left", "values": [380,400,420,440,460,480,500,520,540,560,580,600,620,640,660], "format": "d", "labelExpr": "datum.value % 100 == 0 ? datum.label : ''", "labelPadding": 15, "title": null, "tickSize": {"condition": {"test": "datum.value % 100 == 0", "value": -6}, "value": -3}}},
    "yError": {"field": "e1"}}},
  {"mark": {"type": "tick", "orient": "horizontal", "color": "#00ff00", "size": 2.3, "thickness": 1, "opacity": 1, "clip": true},
   "encoding": {
    "x": {"field": "t", "type": "quantitative", "scale": {"domain": [-9.36, 57.3], "nice": false, "zero": false},
          "axis": {"orient": "top", "values": [-8,-6,-4,-2,0,2,4,6,8,10,12,14,16,18,20,22,24,26,28,30,32,34,36,38,40,42,44,46,48,50,52,54,56], "labels": false, "title": null, "tickSize": {"condition": {"test": "datum.value % 10 == 0", "value": -6}, "value": -3}}},
    "y": {"field": "TH1", "type": "quantitative", "scale": {"domain": [378, 667], "nice": false, "zero": false},
          "axis": {"orient": "right", "values": [380,400,420,440,460,480,500,520,540,560,580,600,620,640,660], "labels": false, "title": "TH1", "titleX": -9, "titleY": 15.3, "titleAngle": 0, "titleAlign": "right", "titleBaseline": "alphabetic", "tickSize": {"condition": {"test": "datum.value % 100 == 0", "value": -6}, "value": -3}}}}}
 ],
 "resolve": {"axis": {"x": "independent", "y": "independent"}}},
{"width": 605, "height": 89,
 "layer": [
  {"mark": {"type": "errorbar", "color": "#0000ff", "thickness": 1, "clip": true},
   "encoding": {
    "x": {"field": "t", "type": "quantitative", "scale": {"domain": [-9.36, 57.3], "nice": false, "zero": false},
          "axis": {"orient": "bottom", "values": [-8,-6,-4,-2,0,2,4,6,8,10,12,14,16,18,20,22,24,26,28,30,32,34,36,38,40,42,44,46,48,50,52,54,56], "labels": false, "title": null, "tickSize": {"condition": {"test": "datum.value % 10 == 0", "value": -6}, "value": -3}}},
    "y": {"field": "TH2", "type": "quantitative", "scale": {"domain": [506, 820], "nice": false, "zero": false},
          "axis": {"orient": "left", "values": [520,540,560,580,600,620,640,660,680,700,720,740,760,780,800,820], "format": "d", "labelExpr": "datum.value % 100 == 0 ? datum.label : ''", "labelPadding": 15, "title": "Counts/sec", "titleX": -59.5, "titleY": 48, "titleAngle": -90, "titleAlign": "center", "titleBaseline": "alphabetic", "tickSize": {"condition": {"test": "datum.value % 100 == 0", "value": -6}, "value": -3}}},
    "yError": {"field": "e2"}}},
  {"mark": {"type": "tick", "orient": "horizontal", "color": "#0000ff", "size": 2.3, "thickness": 1, "opacity": 1, "clip": true},
   "encoding": {
    "x": {"field": "t", "type": "quantitative", "scale": {"domain": [-9.36, 57.3], "nice": false, "zero": false},
          "axis": {"orient": "top", "values": [-8,-6,-4,-2,0,2,4,6,8,10,12,14,16,18,20,22,24,26,28,30,32,34,36,38,40,42,44,46,48,50,52,54,56], "labels": false, "title": null, "tickSize": {"condition": {"test": "datum.value % 10 == 0", "value": -6}, "value": -3}}},
    "y": {"field": "TH2", "type": "quantitative", "scale": {"domain": [506, 820], "nice": false, "zero": false},
          "axis": {"orient": "right", "values": [520,540,560,580,600,620,640,660,680,700,720,740,760,780,800,820], "labels": false, "title": "TH2", "titleX": -9, "titleY": 15.3, "titleAngle": 0, "titleAlign": "right", "titleBaseline": "alphabetic", "tickSize": {"condition": {"test": "datum.value % 100 == 0", "value": -6}, "value": -3}}}}}
 ],
 "resolve": {"axis": {"x": "independent", "y": "independent"}}},
{"width": 605, "height": 90,
 "layer": [
  {"mark": {"type": "errorbar", "color": "#00ffff", "thickness": 1, "clip": true},
   "encoding": {
    "x": {"field": "t", "type": "quantitative", "scale": {"domain": [-9.36, 57.3], "nice": false, "zero": false},
          "axis": {"orient": "bottom", "values": [-8,-6,-4,-2,0,2,4,6,8,10,12,14,16,18,20,22,24,26,28,30,32,34,36,38,40,42,44,46,48,50,52,54,56], "labels": false, "title": null, "tickSize": {"condition": {"test": "datum.value % 10 == 0", "value": -6}, "value": -3}}},
    "y": {"field": "TH3", "type": "quantitative", "scale": {"domain": [738, 1103], "nice": false, "zero": false},
          "axis": {"orient": "left", "values": [740,760,780,800,820,840,860,880,900,920,940,960,980,1000,1020,1040,1060,1080,1100], "format": "d", "labelExpr": "datum.value % 100 == 0 ? datum.label : ''", "labelPadding": 15, "title": null, "tickSize": {"condition": {"test": "datum.value % 100 == 0", "value": -6}, "value": -3}}},
    "yError": {"field": "e3"}}},
  {"mark": {"type": "tick", "orient": "horizontal", "color": "#00ffff", "size": 2.3, "thickness": 1, "opacity": 1, "clip": true},
   "encoding": {
    "x": {"field": "t", "type": "quantitative", "scale": {"domain": [-9.36, 57.3], "nice": false, "zero": false},
          "axis": {"orient": "top", "values": [-8,-6,-4,-2,0,2,4,6,8,10,12,14,16,18,20,22,24,26,28,30,32,34,36,38,40,42,44,46,48,50,52,54,56], "labels": false, "title": null, "tickSize": {"condition": {"test": "datum.value % 10 == 0", "value": -6}, "value": -3}}},
    "y": {"field": "TH3", "type": "quantitative", "scale": {"domain": [738, 1103], "nice": false, "zero": false},
          "axis": {"orient": "right", "values": [740,760,780,800,820,840,860,880,900,920,940,960,980,1000,1020,1040,1060,1080,1100], "labels": false, "title": "TH3", "titleX": -9, "titleY": 15.3, "titleAngle": 0, "titleAlign": "right", "titleBaseline": "alphabetic", "tickSize": {"condition": {"test": "datum.value % 100 == 0", "value": -6}, "value": -3}}}}}
 ],
 "resolve": {"axis": {"x": "independent", "y": "independent"}}},
{"width": 605, "height": 92,
 "layer": [
  {"mark": {"type": "errorbar", "color": "#ff00ff", "thickness": 1, "clip": true},
   "encoding": {
    "x": {"field": "t", "type": "quantitative", "scale": {"domain": [-9.36, 57.3], "nice": false, "zero": false},
          "axis": {"orient": "bottom", "values": [-8,-6,-4,-2,0,2,4,6,8,10,12,14,16,18,20,22,24,26,28,30,32,34,36,38,40,42,44,46,48,50,52,54,56], "format": "d", "labelExpr": "datum.value % 10 == 0 ? datum.label : ''", "labelPadding": 21, "labelBaseline": "alphabetic", "title": "Time [sec] 0 = 2013/05/13 15:57:55.700", "titleX": 291, "titleY": 33, "titleAngle": 0, "titleAlign": "center", "titleBaseline": "alphabetic", "tickSize": {"condition": {"test": "datum.value % 10 == 0", "value": -6}, "value": -3}}},
    "y": {"field": "TH0123", "type": "quantitative", "scale": {"domain": [2528, 3356], "nice": false, "zero": false},
          "axis": {"orient": "left", "values": [2600,2700,2800,2900,3000,3100,3200,3300], "format": "d", "labelExpr": "datum.value % 200 == 0 ? datum.label : ''", "labelPadding": 15, "title": null, "tickSize": {"condition": {"test": "datum.value % 200 == 0", "value": -6}, "value": -3}}},
    "yError": {"field": "e4"}}},
  {"mark": {"type": "tick", "orient": "horizontal", "color": "#ff00ff", "size": 2.3, "thickness": 1, "opacity": 1, "clip": true},
   "encoding": {
    "x": {"field": "t", "type": "quantitative", "scale": {"domain": [-9.36, 57.3], "nice": false, "zero": false},
          "axis": {"orient": "top", "values": [-8,-6,-4,-2,0,2,4,6,8,10,12,14,16,18,20,22,24,26,28,30,32,34,36,38,40,42,44,46,48,50,52,54,56], "labels": false, "title": null, "tickSize": {"condition": {"test": "datum.value % 10 == 0", "value": -6}, "value": -3}}},
    "y": {"field": "TH0123", "type": "quantitative", "scale": {"domain": [2528, 3356], "nice": false, "zero": false},
          "axis": {"orient": "right", "values": [2600,2700,2800,2900,3000,3100,3200,3300], "labels": false, "title": "TH0123", "titleX": -9, "titleY": 15.3, "titleAngle": 0, "titleAlign": "right", "titleBaseline": "alphabetic", "tickSize": {"condition": {"test": "datum.value % 200 == 0", "value": -6}, "value": -3}}}}}
 ],
 "resolve": {"axis": {"x": "independent", "y": "independent"}}}
],
"config": {
 "font": "Liberation Sans",
 "view": {"stroke": "#000", "strokeWidth": 1},
 "axis": {"domain": false, "grid": false, "labelFontSize": 15, "labelColor": "#000", "labelFont": "Liberation Sans", "tickColor": "#000", "tickWidth": 1, "labelOverlap": false, "labelFlush": false, "titleFontSize": 15, "titleFontWeight": "normal", "titleColor": "#000", "titleFont": "Liberation Sans"},
 "title": {"fontSize": 15, "fontWeight": "normal", "color": "#000", "font": "Liberation Sans"}
}
}
